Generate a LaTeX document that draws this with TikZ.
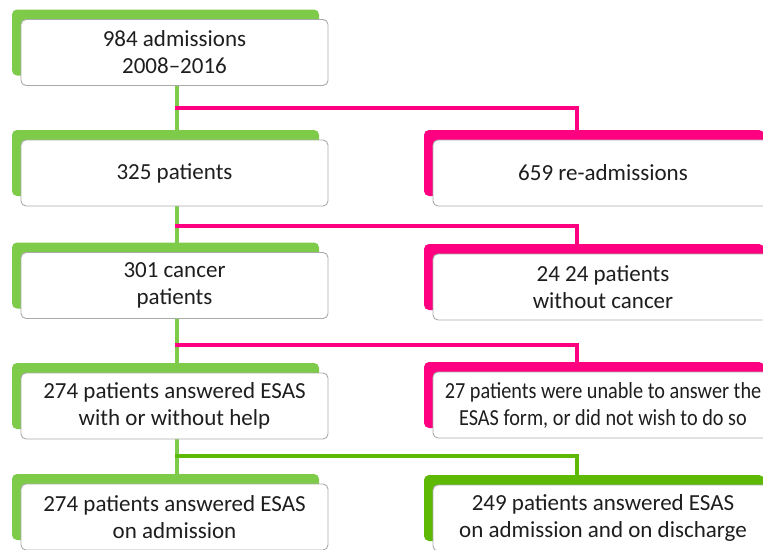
\documentclass[tikz,border=0pt]{standalone}
\usepackage{fontspec}
\setmainfont{Carlito}
\usetikzlibrary{shadows,backgrounds}
\definecolor{lg}{RGB}{125,203,73}
\definecolor{dg}{RGB}{94,185,4}
\definecolor{mg}{RGB}{255,0,128}
\definecolor{bd}{RGB}{170,170,170}
\definecolor{tx}{RGB}{30,30,30}
\begin{document}
\begin{tikzpicture}[x=1pt,y=-1pt,
  box/.style={draw=bd, line width=0.9pt, fill=white, rounded corners=5pt,
    minimum height=66pt, inner sep=0pt, align=center, text=tx,
    font=\fontsize{23}{27}\selectfont},
  lbox/.style={box, minimum width=307pt},
  rbox/.style={box, minimum width=340pt},
  tab/.style={general shadow={fill=#1, draw=none, shadow xshift=-9pt, shadow yshift=10pt}},
  gl/.style={draw=lg, line width=4pt},
  pl/.style={draw=mg, line width=4pt, line cap=rect},
  dl/.style={draw=dg, line width=4pt, line cap=rect}]
\begin{scope}
\clip (0,0) rectangle (763,549);
% left column
\node[lbox, tab=lg] (b1) at (174.5,52.5) {984 admissions\\2008–2016};
\node[lbox, tab=lg] (b2) at (174.5,173) {325 patients};
\node[lbox, tab=lg] (b3) at (174.5,285.5) {301 cancer\\patients};
\node[lbox, tab=lg] (b4) at (174.5,406) {274 patients answered ESAS\\with or without help};
\node[lbox, tab=lg] (b5) at (174.5,517) {274 patients answered ESAS\\on admission};
% right column
\node[rbox, tab=mg] (r2) at (603,173) {659 re-admissions};
\node[rbox, tab=mg] (r3) at (603,287) {24 24 patients\\without cancer};
\node[rbox, tab=mg] (r4) at (603,405) {\scalebox{0.88}[1]{27 patients were unable to answer the}\\\scalebox{0.88}[1]{ESAS form, or did not wish to do so}};
\node[rbox, tab=dg] (r5) at (603,518) {249 patients answered ESAS\\on admission and on discharge};
% junctions
\coordinate (j1) at (177,108); \coordinate (k1) at (577,108);
\coordinate (j2) at (177,226); \coordinate (k2) at (577,226);
\coordinate (j3) at (177,345); \coordinate (k3) at (577,345);
\coordinate (j4) at (177,456); \coordinate (k4) at (577,456);
\begin{scope}[on background layer]
\draw[gl] (b1.south -| j1) -- (b2.north -| j1);
\draw[gl] (b2.south -| j2) -- (b3.north -| j2);
\draw[gl] (b3.south -| j3) -- (b4.north -| j3);
\draw[gl] (b4.south -| j4) -- (b5.north -| j4);
\draw[pl] (j1) -- (k1) -- (k1 |- r2.north);
\draw[pl] (j2) -- (k2) -- (k2 |- r3.north);
\draw[pl] (j3) -- (k3) -- (k3 |- r4.north);
\draw[dl] (j4) -- (k4) -- (k4 |- r5.north);
\end{scope}
\end{scope}
\pgfresetboundingbox
\path[use as bounding box] (0,0) rectangle (763,549);
\end{tikzpicture}
\end{document}
